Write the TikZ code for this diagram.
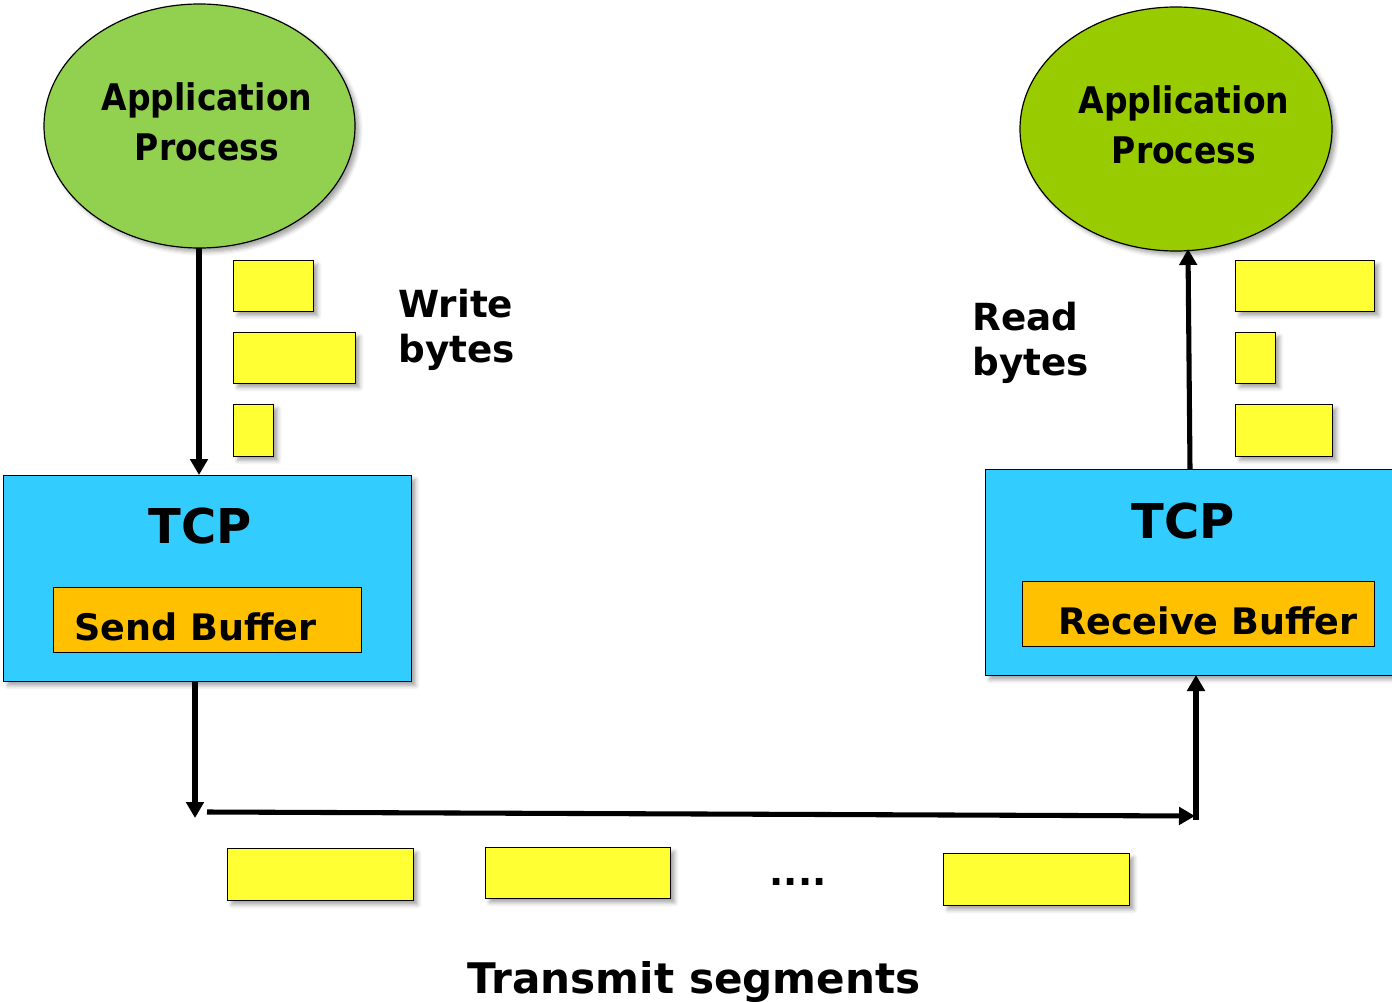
\documentclass[tikz,border=0pt]{standalone}
\usepackage{fontspec}
\setmainfont{DejaVu Sans}
\newfontfamily\appfont{DejaVu Sans Condensed}
\usetikzlibrary{arrows.meta,shapes.geometric,shadows.blur}
\definecolor{appgreenA}{HTML}{92D050}
\definecolor{appgreenB}{HTML}{99CC00}
\definecolor{tcpblue}{HTML}{33CCFF}
\definecolor{bufor}{HTML}{FFC000}
\definecolor{segyel}{HTML}{FFFF33}
\tikzset{
  shd/.style={blur shadow={shadow xshift=3pt,shadow yshift=-3pt,shadow blur radius=3pt,shadow opacity=35}},
  appnode/.style={ellipse,draw=black,line width=0.9pt,inner sep=0pt,shd},
  apptext/.style={font=\appfont\bfseries\fontsize{27.5}{37.5}\selectfont,align=center,inner sep=0pt},
  tcpbox/.style={draw=black,line width=1pt,fill=tcpblue,shd,anchor=north west,inner sep=0pt},
  bufbox/.style={draw=black,line width=1pt,fill=bufor,anchor=north west,inner sep=0pt},
  seg/.style={draw=black,line width=1pt,fill=segyel,shd,anchor=north west,inner sep=0pt},
  lbl/.style={font=\bfseries\fontsize{28}{33.5}\selectfont,align=left,inner sep=0pt},
  conn/.style={line width=3.8pt,-{Triangle[length=12pt,width=13pt]}},
}
\begin{document}
\begin{tikzpicture}[x=0.75pt,y=-0.75pt]
\useasboundingbox (0,0) rectangle (1392,1002);
% application processes
\node[appnode,fill=appgreenA,minimum width=233.25pt,minimum height=183pt] (appL) at (199.5,126) {};
\node[appnode,fill=appgreenB,minimum width=234pt,minimum height=183pt] (appR) at (1176,129) {};
\node[apptext] (appLt) at (207,122) {Application\\Process};
\node[apptext] (appRt) at (1184,125) {Application\\Process};
% TCP boxes
\node[tcpbox,minimum width=306pt,minimum height=154.5pt] (tcpL) at (3,475) {};
\node[tcpbox,minimum width=310pt,minimum height=154.5pt] (tcpR) at (985,469) {};
\node[font=\bfseries\fontsize{36}{40}\selectfont,inner sep=0pt] (tcpLt) at (200,526) {TCP};
\node[font=\bfseries\fontsize{36}{40}\selectfont,inner sep=0pt] (tcpRt) at (1183,521) {TCP};
\node[bufbox,minimum width=231pt,minimum height=48.75pt] (sbuf) at (53,587) {};
\node[bufbox,minimum width=264pt,minimum height=48.75pt] (rbuf) at (1022,581) {};
\node[font=\bfseries\fontsize{27.4}{30}\selectfont,anchor=base west,inner sep=0pt] (sbuft) at (74,640) {Send Buffer};
\node[font=\bfseries\fontsize{27.4}{30}\selectfont,anchor=base west,inner sep=0pt] (rbuft) at (1058,634) {Receive Buffer};
% byte blocks left
\node[seg,minimum width=60pt,minimum height=38.25pt] (bl1) at (233,260) {};
\node[seg,minimum width=91.5pt,minimum height=38.25pt] (bl2) at (233,332) {};
\node[seg,minimum width=30pt,minimum height=39pt] (bl3) at (233,404) {};
% byte blocks right
\node[seg,minimum width=104.25pt,minimum height=38.25pt] (br1) at (1235,260) {};
\node[seg,minimum width=30pt,minimum height=38.25pt] (br2) at (1235,332) {};
\node[seg,minimum width=72.75pt,minimum height=39pt] (br3) at (1235,404) {};
% segments
\node[seg,minimum width=139.5pt,minimum height=39pt] (s1) at (227,848) {};
\node[seg,minimum width=138.75pt,minimum height=38.25pt] (s2) at (485,847) {};
\node[seg,minimum width=139.5pt,minimum height=39pt] (s3) at (943,853) {};
\node[font=\bfseries\fontsize{28}{30}\selectfont,anchor=base,inner sep=0pt] (dots) at (798,885) {....};
% labels
\node[lbl,anchor=west] (wb) at (398,330) {Write\\bytes};
\node[lbl,anchor=west] (rb) at (972,343) {Read\\bytes};
\node[font=\bfseries\fontsize{31.6}{34}\selectfont,anchor=base,inner sep=0pt] (tx) at (694,993) {Transmit segments};
% connectors
\coordinate (wTop) at (199,248);
\coordinate (wBot) at (199,475);
\draw[conn] (wTop) -- (wBot);
\coordinate (rBot) at (1190,469);
\coordinate (rTop) at (1188,249);
\draw[conn] (rBot) -- (rTop);
\coordinate (dTop) at (195,681);
\coordinate (dBot) at (195,818);
\draw[conn] (dTop) -- (dBot);
\coordinate (hL) at (207,812);
\coordinate (hR) at (1195,816);
\draw[conn] (hL) -- (hR);
\coordinate (uBot) at (1196,820);
\coordinate (uTop) at (1196,675);
\draw[conn] (uBot) -- (uTop);
\end{tikzpicture}
\end{document}
